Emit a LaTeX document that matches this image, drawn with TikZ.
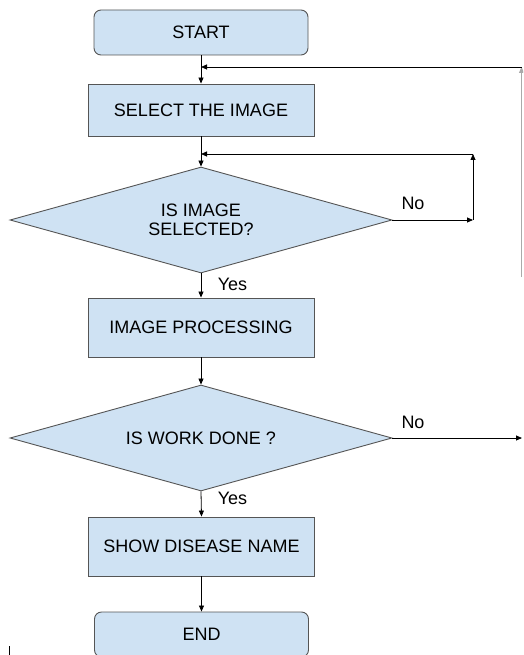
\documentclass[tikz,border=0pt]{standalone}
\usepackage{fontspec}
\setmainfont{Liberation Sans}
\usetikzlibrary{shapes.geometric,arrows.meta}
\definecolor{boxfill}{RGB}{207,226,243}
\definecolor{boxline}{RGB}{85,85,85}
\definecolor{faint}{RGB}{170,170,170}
\begin{document}
\begin{tikzpicture}[x=1pt,y=-1pt,
  font=\fontsize{18}{20}\selectfont,
  box/.style={draw=boxline, fill=boxfill, line width=0.9pt, inner sep=0pt, align=center},
  term/.style={box, rounded corners=7pt, minimum width=214pt, minimum height=45pt},
  proc/.style={box, minimum width=226pt},
  dec/.style={box, diamond, aspect=3.6, minimum width=382pt, minimum height=106pt},
  arr/.style={-{Triangle[length=6pt,width=5pt]}, line width=0.8pt},
  lbl/.style={inner sep=0pt}]
\clip (0,0) rectangle (523,655);
\fill[white] (0,0) rectangle (523,655);
% nodes
\node[term] (start) at (201,32.5) {START};
\node[proc, minimum height=52pt] (select) at (201,110) {SELECT THE IMAGE};
\node[dec] (d1) at (201,220) {IS IMAGE\\[-1pt]SELECTED?};
\node[proc, minimum height=59pt] (imgproc) at (201,327.5) {IMAGE PROCESSING};
\node[dec] (d2) at (201,438) {IS WORK DONE ?};
\node[proc, minimum height=59pt] (show) at (201.5,546.5) {SHOW DISEASE NAME};
\node[term] (end) at (201.5,634.5) {END};
% junction coordinates
\coordinate (j1) at (201,67);
\coordinate (j2) at (201,154);
\coordinate (r1) at (473,220);
\coordinate (r2) at (473,154);
\coordinate (f0) at (522,438);
\coordinate (f1) at (521.5,277);
\coordinate (f2) at (521.5,67);
% connectors
\draw[arr] (start.south) -- (select.north);
\draw[arr] (select.south) -- (d1.north);
\draw[arr] (d1.east) -- (r1);
\draw[arr] (r1) -- (r2);
\draw[arr] (r2) -- (j2);
\draw[arr] (d1.south) -- (imgproc.north);
\draw[arr] (imgproc.south) -- (d2.north);
\draw[arr] (d2.east) -- (f0);
\draw[arr] (d2.south) -- (show.north);
\draw[arr] (show.south) -- (end.north);
\draw[arr, draw=faint] (f1) -- (f2);
\draw[arr] (f2) -- (j1);
% labels
\node[lbl] (no1) at (413,203) {No};
\node[lbl] (no2) at (413,422) {No};
\node[lbl] (yes1) at (232.5,284) {Yes};
\node[lbl] (yes2) at (232.5,498) {Yes};
% stray tick
\draw[line width=0.8pt] (9,646) -- (9,655);
\end{tikzpicture}
\end{document}
